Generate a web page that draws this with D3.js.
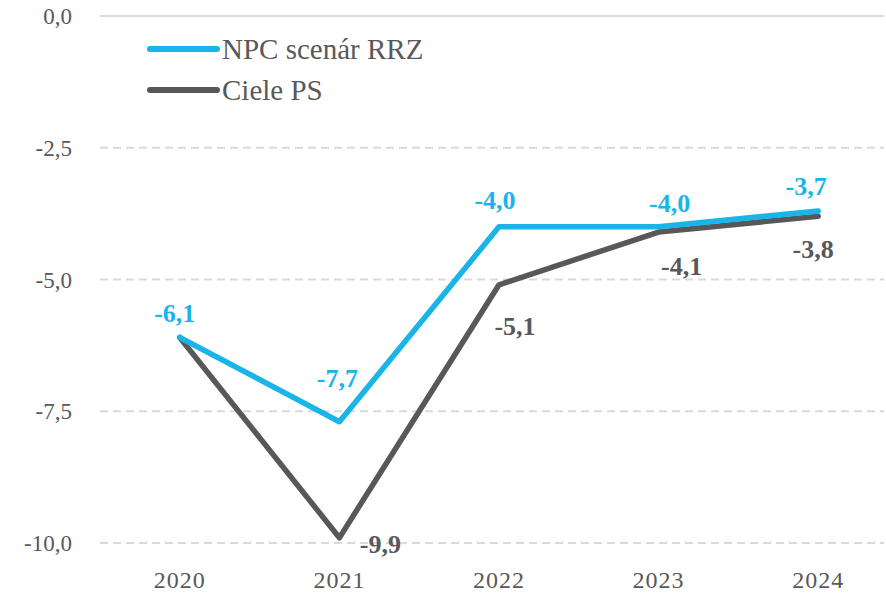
<!DOCTYPE html>
<html>
<head>
<meta charset="utf-8">
<script src="https://cdn.jsdelivr.net/npm/d3@7"></script>
<style>
  body { margin: 0; background: #fff; }
  svg { display: block; font-family: "Liberation Serif", "DejaVu Serif", serif; }
</style>
</head>
<body>
<svg id="svg" width="886" height="595"></svg>
<script>
// Data
var years = ["2020", "2021", "2022", "2023", "2024"]
var npcValues = [-6.1, -7.7, -4.0, -4.0, -3.7]
var cieleValues = [-6.1, -9.9, -5.1, -4.1, -3.8]
var yTicks = [0, -2.5, -5, -7.5, -10]

// label offsets relative to the point (dx, dy), null = no label
var npcLabelOffsets = [[-5, -25], [-2, -44], [-4, -27], [11, -24], [-12, -25]]
var cieleLabelOffsets = [null, [41, 6], [16, 41], [23, 34], [-5, 33]]

var BLUE = "#19B4E8"
var GRAY = "#58585A"

var svg = d3.select("#svg")
var fmt = v => d3.format(".1f")(v).replace(".", ",").replace("−", "-")

var x = d3.scaleBand().domain(years).range([100, 898])
var y = d3.scaleLinear().domain([-10, 0]).range([543, 16])

// grid
svg.selectAll(".grid")
  .data(yTicks)
  .enter().append("line")
  .attr("x1", 100)
  .attr("x2", 884)
  .attr("y1", d => y(d))
  .attr("y2", d => y(d))
  .attr("stroke", "#D9D9D9")
  .attr("stroke-width", 2)
  .attr("stroke-dasharray", d => d == 0 ? null : "8,5")

// y axis labels
svg.selectAll(".ylab")
  .data(yTicks)
  .enter().append("text")
  .attr("x", 72)
  .attr("y", d => y(d))
  .attr("dy", "0.35em")
  .attr("text-anchor", "end")
  .attr("fill", "#595959")
  .attr("font-size", 23)
  .text(d => fmt(d))

// x axis labels
svg.selectAll(".xlab")
  .data(years)
  .enter().append("text")
  .attr("x", d => x(d) + x.bandwidth() / 2)
  .attr("y", 580)
  .attr("dy", "0.35em")
  .attr("text-anchor", "middle")
  .attr("fill", "#595959")
  .attr("font-size", 24)
  .attr("letter-spacing", 1)
  .text(d => d)

var line = d3.line()
  .x((d, i) => x(years[i]) + x.bandwidth() / 2)
  .y(d => y(d))

function drawSeries(values, color, offsets) {
  svg.append("path")
    .datum(values)
    .attr("d", line)
    .attr("fill", "none")
    .attr("stroke", color)
    .attr("stroke-width", 5.5)
    .attr("stroke-linejoin", "round")
    .attr("stroke-linecap", "round")

  svg.append("g").selectAll("text")
    .data(values.map((v, i) => ({ v: v, i: i, off: offsets[i] })).filter(d => d.off))
    .enter().append("text")
    .attr("x", d => x(years[d.i]) + x.bandwidth() / 2 + d.off[0])
    .attr("y", d => y(d.v) + d.off[1])
    .attr("dy", "0.35em")
    .attr("text-anchor", "middle")
    .attr("font-weight", "bold")
    .attr("font-size", 26)
    .attr("fill", color)
    .text(d => fmt(d.v))
}

drawSeries(cieleValues, GRAY, cieleLabelOffsets)
drawSeries(npcValues, BLUE, npcLabelOffsets)

// legend
var legendItems = [
  { name: "NPC scenár RRZ", color: BLUE },
  { name: "Ciele PS", color: GRAY }
]
var legend = svg.selectAll(".legend")
  .data(legendItems)
  .enter().append("g")
  .attr("transform", (d, i) => "translate(150," + (49 + i * 41) + ")")
legend.append("line")
  .attr("x1", 0)
  .attr("x2", 67)
  .attr("stroke", d => d.color)
  .attr("stroke-width", 6)
  .attr("stroke-linecap", "round")
legend.append("text")
  .attr("x", 72)
  .attr("dy", "0.35em")
  .attr("font-size", 29)
  .attr("fill", "#595959")
  .text(d => d.name)
</script>
</body>
</html>
